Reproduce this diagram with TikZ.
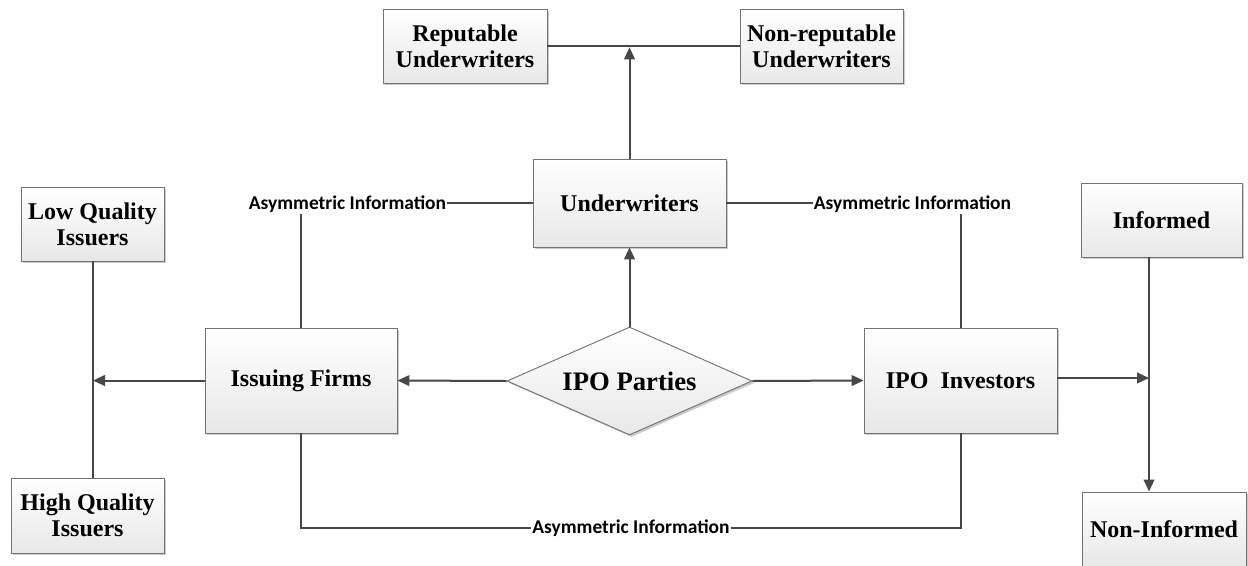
\documentclass[tikz,border=0pt]{standalone}
\usepackage{fontspec}
\setmainfont{Liberation Serif}
\newfontfamily\labelfont{Carlito}
\usetikzlibrary{arrows.meta,shapes.geometric,shadows}
\begin{document}
\begin{tikzpicture}[x=0.75pt,y=-0.75pt,
  box/.style={draw=black!55, line width=0.7pt, top color=white, bottom color=black!9,
    drop shadow={shadow xshift=1.5pt, shadow yshift=-1.5pt, fill=black!35, opacity=0.6},
    inner sep=0pt, align=center, font=\bfseries\fontsize{18}{19.5}\selectfont},
  hub/.style={box, shape=diamond, shape aspect=2.27, minimum width=183.75pt, minimum height=81pt,
    font=\bfseries\fontsize{20}{22}\selectfont},
  conn/.style={draw=black!72, line width=1.5pt},
  arr/.style={conn, -{Triangle[length=9pt,width=8pt]}},
  asym/.style={fill=white, inner xsep=1pt, inner ysep=1pt,
    font=\labelfont\bfseries\fontsize{14.6}{16}\selectfont}]
\useasboundingbox (0,0) rectangle (1248,565);

% parties and their subgroups
\node[box, minimum width=123pt,   minimum height=55.5pt] (rep)       at (465,46)     {Reputable\\Underwriters};
\node[box, minimum width=122.25pt,minimum height=55.5pt] (nonrep)    at (821.5,46)   {Non-reputable\\Underwriters};
\node[box, minimum width=144.75pt,minimum height=66pt]   (under)     at (629.5,203)  {Underwriters};
\node[box, minimum width=144pt,   minimum height=78.75pt](issuing)   at (301,380.5)  {Issuing Firms};
\node[box, minimum width=144.75pt,minimum height=78.75pt](investors) at (960.5,380.5){IPO\ \ Investors};
\node[box, minimum width=107.25pt,minimum height=55.5pt] (low)       at (92.5,224)   {Low Quality\\Issuers};
\node[box, minimum width=114.75pt,minimum height=56.25pt](high)      at (87.5,515.5) {High Quality\\Issuers};
\node[box, minimum width=120.75pt,minimum height=55.5pt] (informed)  at (1161.5,220) {Informed};
\node[box, minimum width=123pt,   minimum height=55.5pt] (noninf)    at (1164,529)   {Non-Informed};
\node[hub] (ipo) at (629.5,381) {IPO Parties};

% junction points
\coordinate (uj) at (629.5,46);
\coordinate (lj) at (93,380.5);
\coordinate (rj) at (1149,378);
\coordinate (bj) at (301,528);

% hub to the three parties
\draw[arr] (ipo.west)  -- (issuing.east);
\draw[arr] (ipo.east)  -- (investors.west);
\draw[arr] (ipo.north) -- (under.south);

% underwriter types
\draw[conn] (rep.east) -- (nonrep.west);
\draw[arr, shorten >=1pt] (under.north) -- (uj);

% issuer types
\draw[arr] (issuing.west) -- (lj);
\draw[conn] (lj |- low.south) -- (lj |- high.north);

% investor types
\draw[arr] (investors.east |- rj) -- (rj);
\draw[arr] (rj |- informed.south) -- (rj |- noninf.north);

% information asymmetries between parties
\draw[conn] (under.west) -| (issuing.north);
\draw[conn] (under.east) -| (investors.north);
\draw[conn] (issuing.south) -- (issuing.south |- bj) -| (investors.south);
\node[asym] (a1) at (347.5,204) {Asymmetric Information};
\node[asym] (a2) at (912.5,204) {Asymmetric Information};
\node[asym] (a3) at (631,528)   {Asymmetric Information};
\end{tikzpicture}
\end{document}
